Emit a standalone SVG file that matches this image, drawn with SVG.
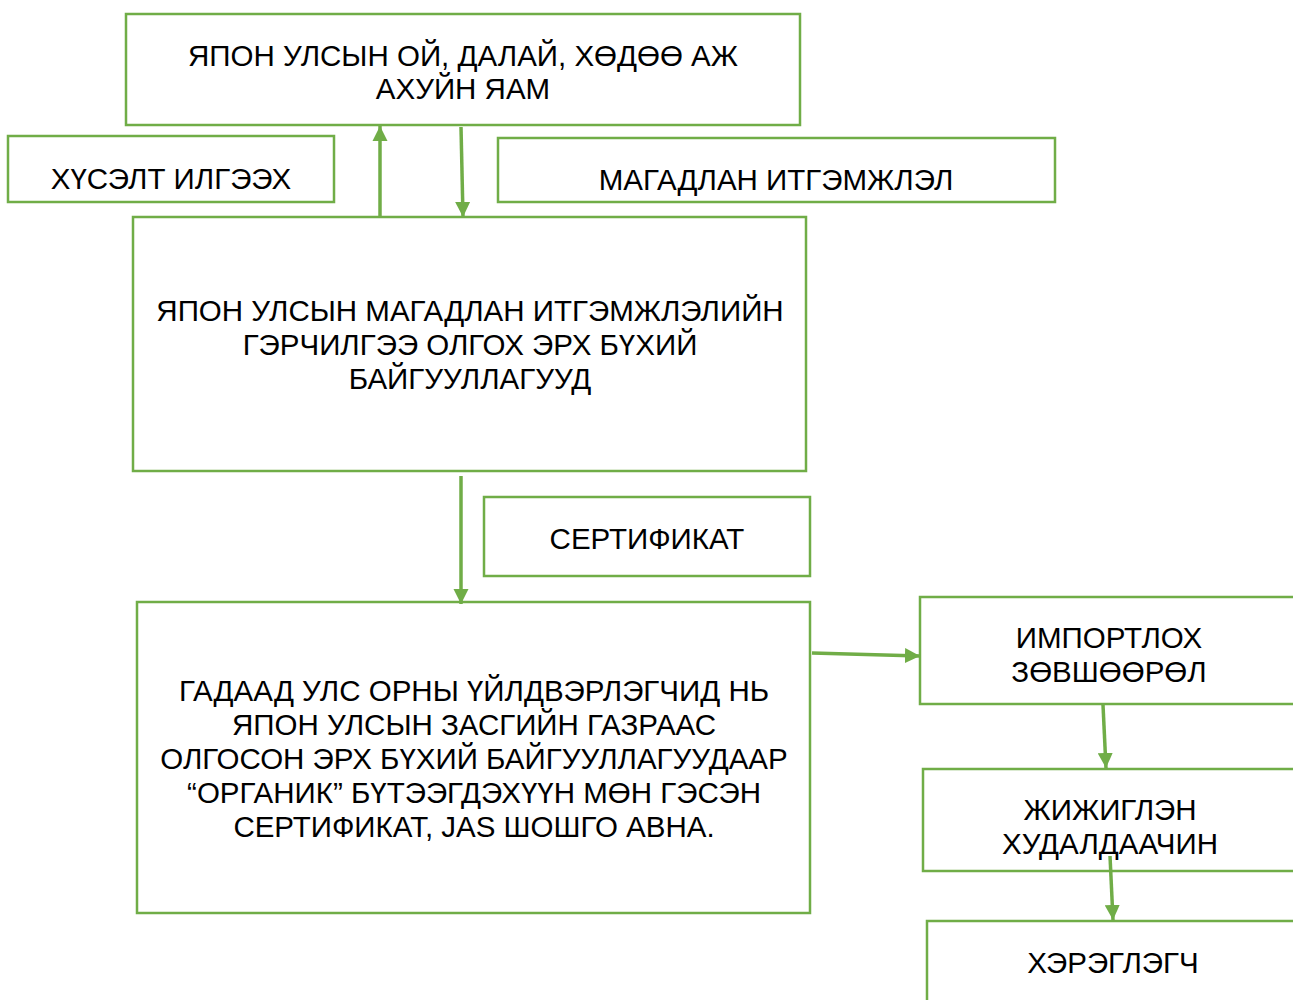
<svg xmlns="http://www.w3.org/2000/svg" width="1293" height="1000" viewBox="0 0 1293 1000">
<style>
.box{fill:#fff;stroke:#70AD47;stroke-width:2.5}
.t{font-family:"Liberation Sans",Arial,sans-serif;font-size:29.5px;fill:#000;text-anchor:middle}
.c{stroke:#70AD47;stroke-width:3.5;fill:none}
</style>
<defs>
<marker id="ah" viewBox="0 0 10 10" refX="10" refY="5" markerWidth="4.3" markerHeight="4.3" orient="auto" markerUnits="strokeWidth">
<path d="M0,0 L10,5 L0,10 z" fill="#70AD47"/>
</marker>
</defs>
<rect width="1293" height="1000" fill="#fff"/>
<g id="n-yam"><rect class="box" x="126" y="14" width="674" height="111"/>
<text class="t" x="463" y="66">ЯПОН УЛСЫН ОЙ, ДАЛАЙ, ХӨДӨӨ АЖ</text>
<text class="t" x="463" y="99">АХУЙН ЯАМ</text></g>
<g id="n-request"><rect class="box" x="8" y="136" width="326" height="66"/>
<text class="t" x="171" y="189">ХҮСЭЛТ ИЛГЭЭХ</text></g>
<g id="n-accredit"><rect class="box" x="498" y="138" width="557" height="64"/>
<text class="t" x="776" y="190">МАГАДЛАН ИТГЭМЖЛЭЛ</text></g>
<g id="n-orgs"><rect class="box" x="133" y="217" width="673" height="254"/>
<text class="t" x="470" y="321">ЯПОН УЛСЫН МАГАДЛАН ИТГЭМЖЛЭЛИЙН</text>
<text class="t" x="470" y="355">ГЭРЧИЛГЭЭ ОЛГОХ ЭРХ БҮХИЙ</text>
<text class="t" x="470" y="389">БАЙГУУЛЛАГУУД</text></g>
<g id="n-cert"><rect class="box" x="484" y="497" width="326" height="79"/>
<text class="t" x="647" y="549">СЕРТИФИКАТ</text></g>
<g id="n-producers"><rect class="box" x="137" y="602" width="673" height="311"/>
<text class="t" x="474" y="701">ГАДААД УЛС ОРНЫ ҮЙЛДВЭРЛЭГЧИД НЬ</text>
<text class="t" x="474" y="735">ЯПОН УЛСЫН ЗАСГИЙН ГАЗРААС</text>
<text class="t" x="474" y="769">ОЛГОСОН ЭРХ БҮХИЙ БАЙГУУЛЛАГУУДААР</text>
<text class="t" x="474" y="803">“ОРГАНИК” БҮТЭЭГДЭХҮҮН МӨН ГЭСЭН</text>
<text class="t" x="474" y="837">СЕРТИФИКАТ, JAS ШОШГО АВНА.</text></g>
<g id="n-import"><rect class="box" x="920" y="597" width="380" height="107"/>
<text class="t" x="1109" y="648">ИМПОРТЛОХ</text>
<text class="t" x="1109" y="682">ЗӨВШӨӨРӨЛ</text></g>
<g id="n-retail"><rect class="box" x="923" y="769" width="380" height="102"/>
<text class="t" x="1110" y="820">ЖИЖИГЛЭН</text>
<text class="t" x="1110" y="854">ХУДАЛДААЧИН</text></g>
<g id="n-consumer"><rect class="box" x="927" y="921" width="380" height="90"/>
<text class="t" x="1113" y="973">ХЭРЭГЛЭГЧ</text></g>
<g id="connectors">
<line class="c" x1="380" y1="216" x2="380" y2="126" marker-end="url(#ah)"/>
<line class="c" x1="461" y1="127" x2="463" y2="217" marker-end="url(#ah)"/>
<line class="c" x1="461" y1="476" x2="461" y2="604" marker-end="url(#ah)"/>
<line class="c" x1="812" y1="653" x2="920" y2="656" marker-end="url(#ah)"/>
<line class="c" x1="1103" y1="705" x2="1106" y2="768" marker-end="url(#ah)"/>
<line class="c" x1="1110" y1="856" x2="1113" y2="920" marker-end="url(#ah)"/>
</g>
</svg>
